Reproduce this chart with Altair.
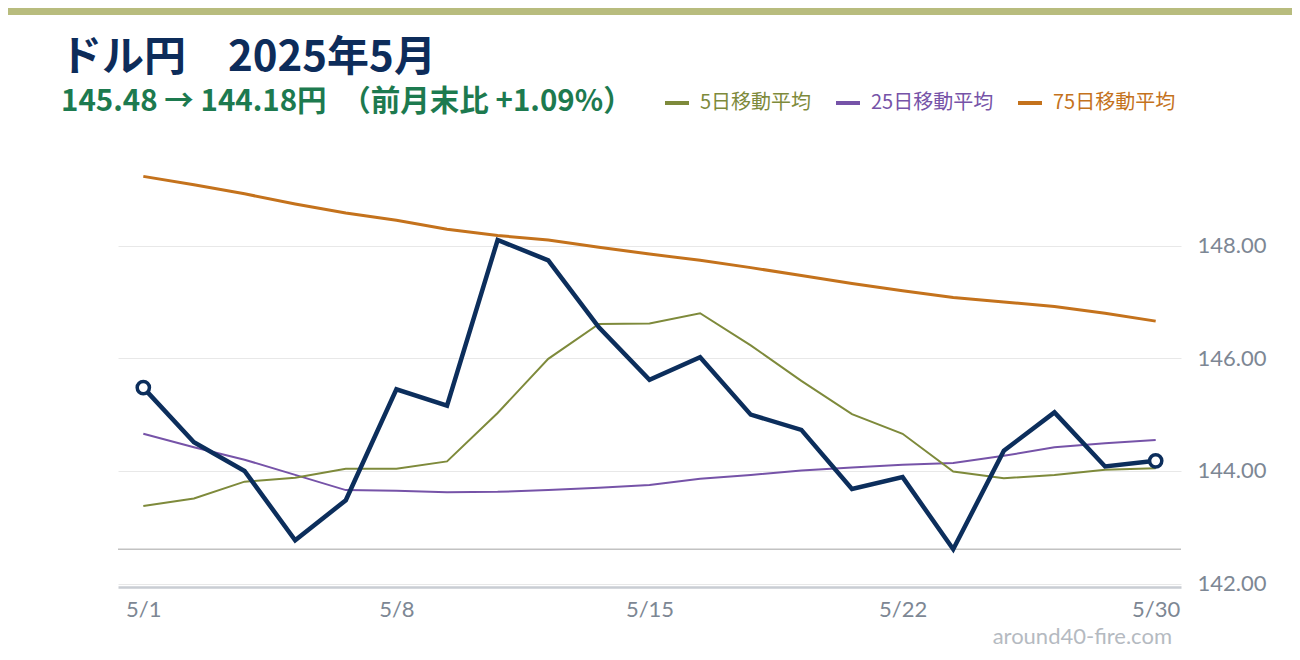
import altair as alt
import pandas as pd

dates = ["5/1", "5/2", "5/5", "5/6", "5/7", "5/8", "5/9", "5/12", "5/13", "5/14", "5/15",
         "5/16", "5/19", "5/20", "5/21", "5/22", "5/23", "5/27", "5/28", "5/29", "5/30"]
rate = [145.48, 144.51, 144.00, 142.77, 143.48, 145.45, 145.16, 148.10, 147.74, 146.55, 145.62,
        146.02, 145.00, 144.73, 143.68, 143.89, 142.61, 144.36, 145.04, 144.08, 144.18]
ma5 = [143.38, 143.51, 143.81, 143.88, 144.04, 144.04, 144.17, 145.03, 145.99, 146.61, 146.62,
       146.80, 146.23, 145.60, 145.01, 144.66, 143.99, 143.87, 143.93, 144.02, 144.05]
ma25 = [144.66, 144.42, 144.20, 143.93, 143.66, 143.65, 143.62, 143.63, 143.66, 143.70, 143.75,
        143.86, 143.93, 144.01, 144.06, 144.11, 144.14, 144.27, 144.42, 144.49, 144.55]
ma75 = [149.23, 149.08, 148.92, 148.74, 148.58, 148.45, 148.29, 148.18, 148.10, 147.97, 147.85,
        147.74, 147.61, 147.47, 147.33, 147.20, 147.08, 147.00, 146.92, 146.80, 146.66]

series_names = ["5日移動平均", "25日移動平均", "75日移動平均"]
series_colors = ["#7e8a3b", "#7653a8", "#c4721c"]
series_widths = [2, 2, 3]
x_ticks = ["5/1", "5/8", "5/15", "5/22", "5/30"]
y_ticks = [142, 144, 146, 148]

title_text = "ドル円　2025年5月"
subtitle_text = "145.48 → 144.18円　（前月末比 +1.09%）"
watermark_text = "around40-fire.com"

NAVY = "#0c2e5c"
AXIS_GRAY = "#7d8794"

main_df = pd.DataFrame({"date": dates, "value": rate})
ends_df = pd.DataFrame({"date": [dates[0], dates[-1]], "value": [rate[0], rate[-1]]})
ma_df = pd.DataFrame({
    "date": dates * 3,
    "value": ma5 + ma25 + ma75,
    "series": [series_names[0]] * len(dates) + [series_names[1]] * len(dates) + [series_names[2]] * len(dates),
})

x_enc = alt.X(
    "date:O", sort=dates,
    scale=alt.Scale(type="point", padding=0.5),
    axis=alt.Axis(values=x_ticks, labelAngle=0, ticks=False, grid=False, title=None,
                  domainColor="#c9cdd3", domainWidth=2.5, labelPadding=12,
                  labelFont="Lato", labelFontSize=22, labelFontWeight="normal", labelColor=AXIS_GRAY),
)
y_enc = alt.Y(
    "value:Q",
    scale=alt.Scale(domain=[141.94, 150], nice=False, zero=False),
    axis=alt.Axis(orient="right", values=y_ticks, format=".2f", title=None, domain=False, ticks=False,
                  grid=True, gridColor="#e8e8e8", gridWidth=1, labelPadding=16,
                  labelFont="Lato", labelFontSize=22, labelFontWeight="normal", labelColor=AXIS_GRAY),
)

label_color_expr = (
    f"datum.value == '{series_names[0]}' ? '{series_colors[0]}' : "
    f"datum.value == '{series_names[1]}' ? '{series_colors[1]}' : '{series_colors[2]}'"
)
color_enc = alt.Color(
    "series:N",
    scale=alt.Scale(domain=series_names, range=series_colors),
    legend=alt.Legend(
        orient="none", legendX=545, legendY=-44, direction="horizontal", title=None,
        symbolType="stroke", symbolSize=576, symbolStrokeWidth=4,
        labelFont="Noto Sans CJK JP", labelFontSize=20, labelOffset=9, columnPadding=16,
        labelColor={"expr": label_color_expr}, padding=0,
    ),
)

base_ma = alt.Chart(ma_df)
ma_layers = []
for name, w in zip(reversed(series_names), reversed(series_widths)):
    ma_layers.append(
        base_ma.transform_filter(alt.datum.series == name)
        .mark_line(strokeWidth=w)
        .encode(x=x_enc, y=y_enc, color=color_enc)
    )

min_rule = alt.Chart(main_df).mark_rule(color="#c2c2c2", strokeWidth=1.3).encode(
    y=alt.Y("min(value):Q")
)

main_line = alt.Chart(main_df).mark_line(color=NAVY, strokeWidth=4.5).encode(x=x_enc, y=y_enc)
end_points = alt.Chart(ends_df).mark_point(
    shape="circle", filled=True, fill="white", stroke=NAVY, strokeWidth=3.5, size=150, opacity=1
).encode(x=x_enc, y=y_enc)

title_mark = alt.Chart(pd.DataFrame({"t": [title_text]})).mark_text(
    align="left", baseline="alphabetic", font="Noto Sans CJK JP", fontSize=42, fontWeight="bold",
    color="#0d2c5a",
).encode(text="t:N", x=alt.value(-58), y=alt.value(-62))
subtitle_mark = alt.Chart(pd.DataFrame({"t": [subtitle_text]})).mark_text(
    align="left", baseline="alphabetic", font="Noto Sans CJK JP", fontSize=29.5, fontWeight="bold",
    color="#1d7a4f",
).encode(text="t:N", x=alt.value(-57), y=alt.value(-22))
watermark_mark = alt.Chart(pd.DataFrame({"t": [watermark_text]})).mark_text(
    align="right", baseline="alphabetic", font="Lato", fontSize=22, fontWeight="normal",
    color="#b5bac1",
).encode(text="t:N", x=alt.value(1054), y=alt.value(511))
top_bar = alt.Chart(pd.DataFrame({"t": [0]})).mark_rect(color="#b8bc7e").encode(
    x=alt.value(-110), x2=alt.value(1174), y=alt.value(-125), y2=alt.value(-118)
)

chart = alt.layer(
    top_bar, min_rule, *ma_layers, main_line, end_points, title_mark, subtitle_mark, watermark_mark
).properties(
    width=1063, height=454,
    autosize=alt.AutoSizeParams(type="none"),
    padding={"left": 110, "top": 125, "right": 111, "bottom": 61},
).configure_view(stroke=None)

chart.save("out.html", embed_options={"renderer": "svg", "actions": False})
